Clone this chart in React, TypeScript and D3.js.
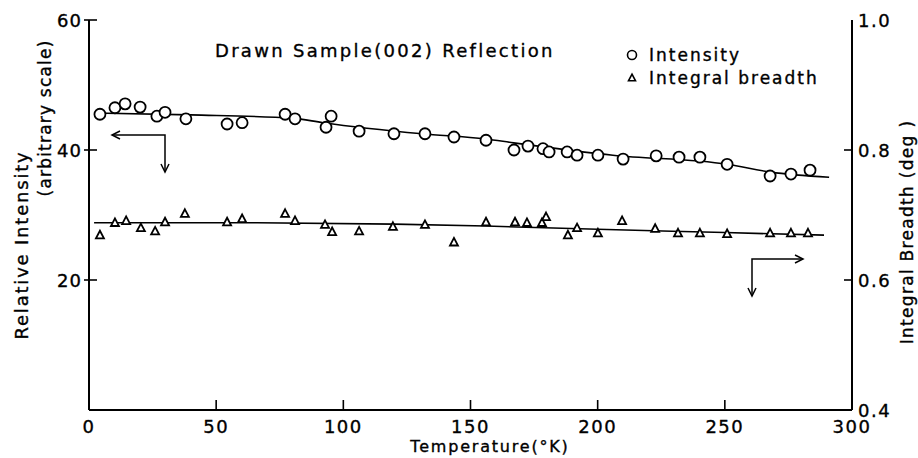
import React from "react";
import * as d3 from "d3";

const intensityT = [4.3, 10.2, 14.2, 20.1, 26.7, 29.9, 38.1, 54.3, 60.2, 77.1, 81.0, 93.2, 95.2, 106.2, 119.9, 132.1, 143.5, 156.1, 167.1, 172.6, 178.5, 180.9, 188.0, 191.9, 200.1, 210.0, 223.0, 232.0, 240.2, 250.9, 267.8, 276.0, 283.5];
const intensityV = [45.5, 46.5, 47.1, 46.6, 45.2, 45.8, 44.8, 44.0, 44.2, 45.5, 44.8, 43.5, 45.2, 42.9, 42.5, 42.5, 42.0, 41.5, 40.0, 40.6, 40.2, 39.7, 39.7, 39.2, 39.2, 38.6, 39.1, 38.9, 38.9, 37.8, 36.0, 36.3, 36.9];

const breadthT = [4.3, 10.2, 14.6, 20.4, 26.0, 29.9, 37.7, 54.3, 60.2, 77.1, 81.0, 92.8, 95.6, 106.2, 119.5, 132.1, 143.5, 156.1, 167.5, 172.2, 178.1, 179.7, 188.3, 191.9, 200.1, 209.6, 222.6, 231.6, 240.2, 250.9, 267.8, 276.0, 282.7];
const breadthV = [0.669, 0.688, 0.691, 0.680, 0.675, 0.689, 0.702, 0.689, 0.694, 0.702, 0.691, 0.685, 0.674, 0.675, 0.682, 0.685, 0.658, 0.689, 0.689, 0.688, 0.688, 0.697, 0.669, 0.680, 0.672, 0.691, 0.679, 0.672, 0.672, 0.671, 0.672, 0.672, 0.672];

const intensityFitT = [2, 40, 80, 92, 131, 156, 167, 206, 251, 268, 291];
const intensityFitV = [45.7, 45.4, 44.9, 44.2, 42.5, 41.7, 41.1, 39.2, 37.8, 36.6, 35.8];
const breadthFitT = [2, 60, 120, 156, 200, 250, 289];
const breadthFitV = [0.688, 0.688, 0.686, 0.683, 0.678, 0.673, 0.669];

const xTicks = [0, 50, 100, 150, 200, 250, 300];
const xTickLabels = ["0", "50", "100", "150", "200", "250", "300"];
const leftTicks = [20, 40, 60];
const rightTicks = [0.4, 0.6, 0.8, 1.0];

const W = 918, H = 458;
const L = 89, R = 852, T = 20, B = 410;
const FONT = "'DejaVu Sans', sans-serif";
const TS = { stroke: "#000", strokeWidth: 0.35 };

export default function App() {
  const x = d3.scaleLinear().domain([0, 300]).range([L, R]);
  const yL = d3.scaleLinear().domain([0, 60]).range([B, T]);
  const yR = d3.scaleLinear().domain([0.4, 1.0]).range([B, T]);

  const lineI = d3.line<number>().x((d, i) => x(intensityFitT[i])).y((d) => yL(d)).curve(d3.curveMonotoneX);
  const lineB = d3.line<number>().x((d, i) => x(breadthFitT[i])).y((d) => yR(d)).curve(d3.curveMonotoneX);

  const tri = (cx: number, cy: number, s = 7) =>
    `M${cx},${cy - s * 0.55} L${cx + s / 2},${cy + s * 0.4} L${cx - s / 2},${cy + s * 0.4} Z`;

  const arrowHead = (tipX: number, tipY: number, dir: "l" | "r" | "d") => {
    const a = 8, b = 4;
    if (dir === "l") return `M${tipX + a},${tipY - b} L${tipX},${tipY} L${tipX + a},${tipY + b}`;
    if (dir === "r") return `M${tipX - a},${tipY - b} L${tipX},${tipY} L${tipX - a},${tipY + b}`;
    return `M${tipX - b},${tipY - a} L${tipX},${tipY} L${tipX + b},${tipY - a}`;
  };

  return (
    <svg width={W} height={H} style={{ position: "absolute", left: 0, top: 0, background: "#fff" }} fontFamily={FONT}>
      <rect x={0} y={0} width={W} height={H} fill="#fff" />
      {/* axes */}
      <line x1={L} y1={T} x2={L} y2={B} stroke="#000" strokeWidth={2} />
      <line x1={R} y1={T} x2={R} y2={B} stroke="#000" strokeWidth={2} />
      <line x1={L} y1={B} x2={R} y2={B} stroke="#000" strokeWidth={2} />

      {xTicks.map((t, i) => (
        <g key={"xt" + i}>
          {i > 0 && i < xTicks.length - 1 && (
            <line x1={x(t)} x2={x(t)} y1={B} y2={B - 10} stroke="#000" strokeWidth={1.6} />
          )}
          <text x={x(t)} y={433} fontSize={18} textAnchor="middle" letterSpacing={1.5} {...TS}>
            {xTickLabels[i]}
          </text>
        </g>
      ))}
      <text x={490} y={452} fontSize={16} textAnchor="middle" letterSpacing={1.8} {...TS}>
        Temperature(°K)
      </text>

      {leftTicks.map((t) => (
        <g key={"lt" + t}>
          <line x1={L - 5} x2={L + 8} y1={yL(t)} y2={yL(t)} stroke="#000" strokeWidth={1.6} />
          <text x={L - 7} y={yL(t) + 7} fontSize={18} textAnchor="end" letterSpacing={1} {...TS}>
            {t}
          </text>
        </g>
      ))}
      {rightTicks.map((t) => (
        <g key={"rt" + t}>
          {t > 0.4 && t < 1.0 && (
            <line x1={R - 8} x2={R} y1={yR(t)} y2={yR(t)} stroke="#000" strokeWidth={1.6} />
          )}
          <text x={R + 6} y={t === 0.4 ? 417 : yR(t) + 7} fontSize={18} textAnchor="start" letterSpacing={1.5} {...TS}>
            {t.toFixed(1)}
          </text>
        </g>
      ))}

      <text transform={`translate(28,245) rotate(-90)`} fontSize={18} textAnchor="middle" letterSpacing={1.8} {...TS}>
        Relative  Intensity
      </text>
      <text transform={`translate(51,118) rotate(-90)`} fontSize={17} textAnchor="middle" letterSpacing={1.2} {...TS}>
        (arbitrary scale)
      </text>
      <text transform={`translate(913,232) rotate(-90)`} fontSize={17} textAnchor="middle" letterSpacing={1.3} {...TS}>
        Integral Breadth (deg )
      </text>

      {/* title & legend */}
      <text x={215} y={57} fontSize={18} letterSpacing={2.3} {...TS}>
        Drawn  Sample(002) Reflection
      </text>
      <circle cx={632} cy={55} r={4.5} fill="none" stroke="#000" strokeWidth={1.6} />
      <text x={649} y={61} fontSize={17} letterSpacing={2} {...TS}>Intensity</text>
      <path d={tri(632, 78, 7)} fill="none" stroke="#000" strokeWidth={1.6} />
      <text x={649} y={84} fontSize={17} letterSpacing={2} {...TS}>Integral breadth</text>

      {/* fit lines */}
      <path d={lineI(intensityFitV) || ""} fill="none" stroke="#000" strokeWidth={1.6} />
      <path d={lineB(breadthFitV) || ""} fill="none" stroke="#000" strokeWidth={1.6} />

      {/* points */}
      {intensityV.map((v, i) => (
        <circle key={"c" + i} cx={x(intensityT[i])} cy={yL(v)} r={5.5} fill="#fff" stroke="#000" strokeWidth={1.8} />
      ))}
      {breadthV.map((v, i) => (
        <path key={"t" + i} d={tri(x(breadthT[i]), yR(v), 8)} fill="#fff" stroke="#000" strokeWidth={1.8} />
      ))}

      {/* arrows */}
      <g stroke="#000" strokeWidth={1.5} fill="none">
        <path d={`M112,135 L165,135 L165,172`} />
        <path d={arrowHead(112, 135, "l")} />
        <path d={arrowHead(165, 172, "d")} />
        <path d={`M803,259 L752,259 L752,296`} />
        <path d={arrowHead(803, 259, "r")} />
        <path d={arrowHead(752, 296, "d")} />
      </g>
    </svg>
  );
}
